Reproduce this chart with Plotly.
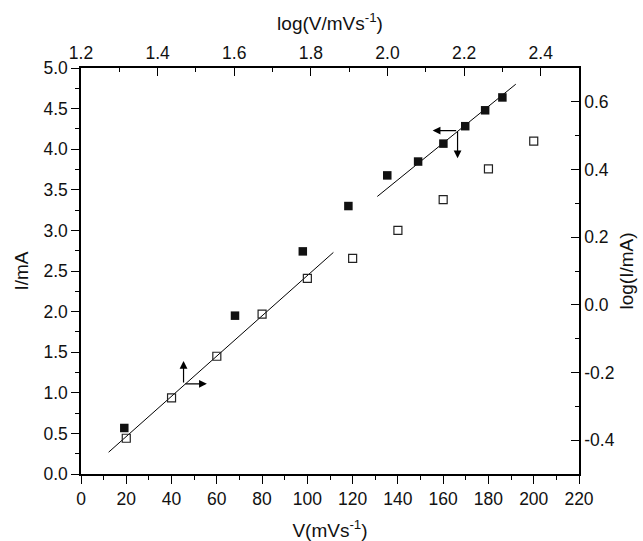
import plotly.graph_objects as go

# Data
scan_rate = [20, 40, 60, 80, 100, 120, 140, 160, 180, 200]          # V (mV/s)
current = [0.44, 0.937, 1.45, 1.97, 2.41, 2.655, 3.0, 3.38, 3.757, 4.10]  # I (mA)

log_v = [1.313, 1.602, 1.779, 1.898, 1.9995, 2.080, 2.146, 2.203, 2.255, 2.300]
log_i = [-0.364, -0.032, 0.158, 0.292, 0.3826, 0.4235, 0.4765, 0.528, 0.575, 0.613]

# Linear fits
fit1_x = [12.2, 111.5]
fit1_slope, fit1_int = 0.02478, -0.034
fit2_x = [1.9735, 2.335]
fit2_slope, fit2_int = 0.918, -1.4914

right_tickvals = [-0.4, -0.2, 0.0, 0.2, 0.4, 0.6]
right_ticktext = ["-0.4", "-0.2", "0.0", "0.2", "0.4", "0.6"]

fit1_y = [fit1_slope * x + fit1_int for x in fit1_x]
fit2_y = [fit2_slope * x + fit2_int for x in fit2_x]

FONT = "Liberation Sans, Arial, sans-serif"
TICK_SIZE = 17.5
TITLE_SIZE = 19
fig = go.Figure()

fig.add_trace(go.Scatter(x=fit1_x, y=fit1_y, mode="lines",
                         line=dict(color="black", width=1), xaxis="x", yaxis="y",
                         showlegend=False))
fig.add_trace(go.Scatter(x=scan_rate, y=current, mode="markers",
                         marker=dict(symbol="square-open", size=8, color="#222",
                                     line=dict(width=1.2, color="#222")),
                         xaxis="x", yaxis="y", showlegend=False))
fig.add_trace(go.Scatter(x=fit2_x, y=fit2_y, mode="lines",
                         line=dict(color="black", width=1), xaxis="x2", yaxis="y2",
                         showlegend=False))
fig.add_trace(go.Scatter(x=log_v, y=log_i, mode="markers",
                         marker=dict(symbol="square", size=8.5, color="#111",
                                     line=dict(width=0)),
                         xaxis="x2", yaxis="y2", showlegend=False))

axis_common = dict(showline=True, linecolor="black", linewidth=1.5, showgrid=False,
                   zeroline=False, tickcolor="black", tickwidth=1.3, ticklen=8,
                   automargin=False,
                   tickfont=dict(size=TICK_SIZE, color="#111", family=FONT))
minor_common = dict(ticklen=4, tickcolor="black", tickwidth=1.3)

fig.update_layout(
    width=643, height=541,
    margin=dict(l=81, r=64, t=68, b=67),
    paper_bgcolor="white", plot_bgcolor="white",
    font=dict(family=FONT, color="#111"),
    xaxis=dict(range=[0, 220], dtick=20, tick0=0, ticks="outside",
               minor=dict(dtick=10, ticks="outside", **minor_common),
               title=dict(text="V(mVs<sup>-1</sup>)", font=dict(size=TITLE_SIZE, family=FONT), standoff=16),
               **axis_common),
    yaxis=dict(range=[0, 5], dtick=0.5, tick0=0, tickformat=".1f", ticks="outside",
               minor=dict(dtick=0.25, ticks="outside", **minor_common),
               title=dict(text="I/mA", font=dict(size=TITLE_SIZE, family=FONT), standoff=10),
               **axis_common),
    xaxis2=dict(range=[1.2, 2.5], dtick=0.2, tick0=1.2, tickformat=".1f", ticks="inside",
                overlaying="x", side="top", anchor="y",
                minor=dict(dtick=0.1, ticks="inside", **minor_common),
                title=dict(text="log(V/mVs<sup>-1</sup>)", font=dict(size=TITLE_SIZE, family=FONT), standoff=8),
                **axis_common),
    yaxis2=dict(range=[-0.5, 0.7], tickvals=right_tickvals, ticktext=right_ticktext,
                ticks="inside", overlaying="y", side="right", anchor="x",
                minor=dict(dtick=0.1, tick0=0, ticks="inside", **minor_common),
                title=dict(text="log(I/mA)", font=dict(size=TITLE_SIZE, family=FONT), standoff=6),
                **axis_common),
)

# Arrow annotations indicating which axes each data set belongs to
arrow_style = dict(showarrow=True, arrowhead=2, arrowsize=1.3, arrowwidth=1.2,
                   arrowcolor="black", text="")
fig.add_annotation(x=45.3, y=1.393, xref="x", yref="y", ax=0, ay=23, **arrow_style)
fig.add_annotation(x=55.6, y=1.11, xref="x", yref="y", ax=-23, ay=0, **arrow_style)
fig.add_annotation(x=2.118, y=0.515, xref="x2", yref="y2", ax=25, ay=0, **arrow_style)
fig.add_annotation(x=2.183, y=0.433, xref="x2", yref="y2", ax=0, ay=-28, **arrow_style)

# remove the default page margin so the 643x541 figure fills the window exactly
fig.write_html("out.html", config={"displayModeBar": False},
               post_script="document.body.style.margin='0';document.body.style.overflow='hidden';")
